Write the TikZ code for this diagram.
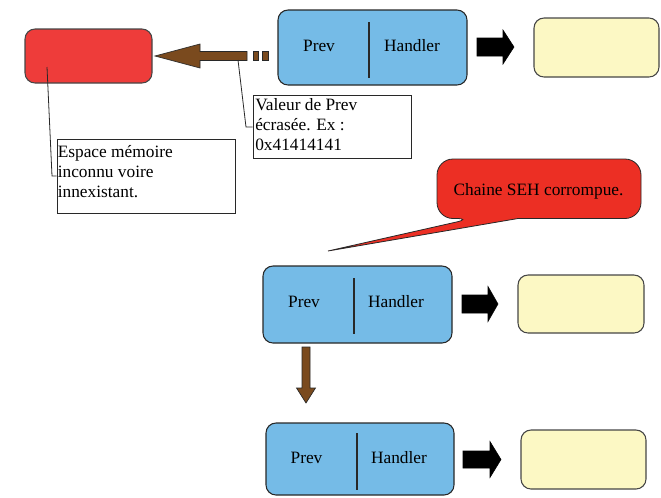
\documentclass[tikz,border=0pt]{standalone}
\usepackage{fontspec}
\setmainfont{Liberation Serif}
\begin{document}
\begin{tikzpicture}[x=0.75pt,y=-0.75pt,
  every node/.style={inner sep=0pt},
  txt/.style={font=\fontsize{13}{15}\selectfont},
  sz/.style 2 args={minimum width=#1*0.75pt, minimum height=#2*0.75pt},
  bluebox/.style={draw=lineC, fill=blueF, rounded corners=7.5pt, line width=0.8pt},
  yellowbox/.style={draw=grayC, fill=yellowF, rounded corners=7.5pt, line width=0.8pt},
  redbox/.style={draw=grayC, fill=redF, rounded corners=7.5pt, line width=0.8pt},
  notebox/.style={draw=lineC, fill=white, line width=0.6pt},
  divider/.style={draw=lineC, line width=0.8pt},
  blackarrow/.style={fill=black, draw=black, line width=0.4pt},
  brownarrow/.style={fill=brownF, draw=lineC, line width=0.5pt},
  leader/.style={draw=lineC, line width=0.6pt}
]
\definecolor{lineC}{RGB}{40,40,40}
\definecolor{grayC}{RGB}{70,70,70}
\definecolor{blueF}{RGB}{117,187,231}
\definecolor{yellowF}{RGB}{252,248,196}
\definecolor{redF}{RGB}{238,60,58}
\definecolor{bubbleF}{RGB}{236,47,36}
\definecolor{brownF}{RGB}{122,74,30}

\useasboundingbox (0,0) rectangle (661,497);

% ---------- top row ----------
\node[redbox, sz={127}{54}] (red) at (88.5,56) {};

\node[bluebox, sz={189}{75}] (b1) at (372.5,47.5) {};
\draw[divider] (369,22) -- (369,78);
\node[txt, anchor=base] (p1) at (319,51) {Prev};
\node[txt, anchor=base] (h1) at (412,51) {Handler};

\node[yellowbox, sz={125}{59}] (y1) at (596.5,47.5) {};

% black arrow top
\draw[blackarrow, shift={(477,47)}] (0,-9) -- (26,-9) -- (26,-17) -- (37,0) -- (26,17) -- (26,9) -- (0,9) -- cycle;

% brown arrow pointing left
\draw[brownarrow] (155,56) -- (200,44) -- (200,51.5) -- (247,51.5) -- (247,60.5) -- (200,60.5) -- (200,68) -- cycle;
\draw[brownarrow] (253,51.5) rectangle (258,60.5);
\draw[brownarrow] (262,51.5) rectangle (268,60.5);

% note: Valeur de Prev
\node[notebox, sz={158}{63}] (n1) at (332,126.5) {};
\node[txt, anchor=base west] (n1t) at (255,110) {\parbox[t]{160pt}{\raggedright Valeur de Prev\\ écrasée. Ex :\\ 0x41414141}};
\coordinate (n1a) at (238,60);
\coordinate (n1b) at (246,127);
\draw[leader] (n1a) -- (n1b) -- (n1b -| n1.west);

% note: Espace mémoire
\node[notebox, sz={178}{74}] (n2) at (146,176) {};
\node[txt, anchor=base west] (n2t) at (57.5,157) {\parbox[t]{130pt}{\raggedright Espace mémoire\\ inconnu voire\\ innexistant.}};
\coordinate (n2a) at (47,67);
\coordinate (n2b) at (52,176);
\draw[leader] (n2a) -- (n2b) -- (n2b -| n2.west);

% ---------- callout ----------
\filldraw[fill=bubbleF, draw=lineC, line width=0.6pt]
  (328,251) -- (518,218.5) [rounded corners=12pt] -- (641,218.5) -- (641,159) -- (437,159) -- (437,218.5) -- (472,218.5) [sharp corners] -- cycle;
\node[txt, anchor=base] (seh) at (538.5,195) {Chaine SEH corrompue.};

% ---------- middle row ----------
\node[bluebox, sz={189}{77}] (b2) at (357.5,304.5) {};
\draw[divider] (354,278) -- (354,334);
\node[txt, anchor=base] (p2) at (304,307) {Prev};
\node[txt, anchor=base] (h2) at (396,307) {Handler};

\node[yellowbox, sz={126}{58}] (y2) at (581,304) {};
\draw[blackarrow, shift={(462,304)}] (0,-9) -- (26,-9) -- (26,-17.5) -- (36,0) -- (26,17.5) -- (26,9) -- (0,9) -- cycle;

% brown arrow down
\draw[brownarrow] (302,347) -- (310,347) -- (310,388) -- (315.5,388) -- (306,403) -- (296.5,388) -- (302,388) -- cycle;

% ---------- bottom row ----------
\node[bluebox, sz={188}{72}] (b3) at (360,459) {};
\draw[divider] (357,433) -- (357,490);
\node[txt, anchor=base] (p3) at (306.5,463) {Prev};
\node[txt, anchor=base] (h3) at (399,463) {Handler};

\node[yellowbox, sz={125}{59}] (y3) at (583.5,459.5) {};
\draw[blackarrow, shift={(463,459.5)}] (0,-8.5) -- (27,-8.5) -- (27,-18) -- (38,0) -- (27,18) -- (27,8.5) -- (0,8.5) -- cycle;
\end{tikzpicture}
\end{document}
